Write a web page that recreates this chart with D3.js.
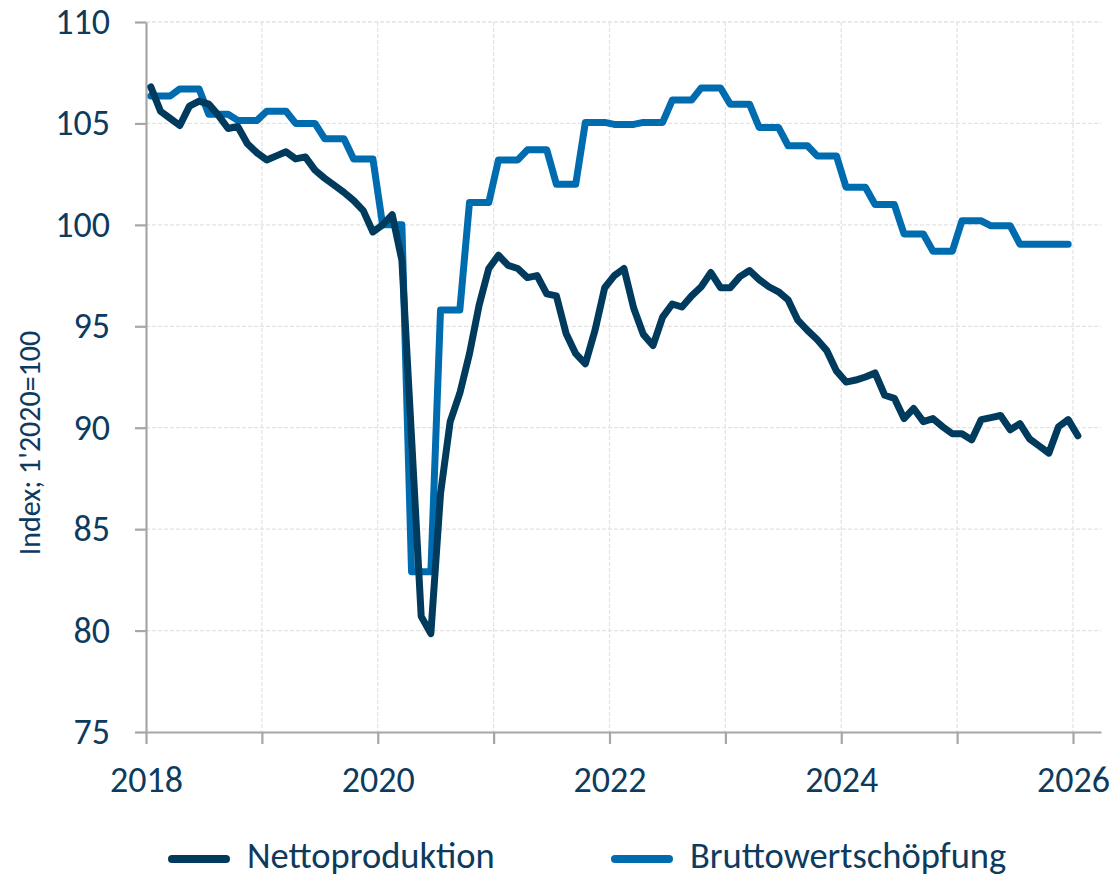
<!DOCTYPE html>
<html>
<head>
<meta charset="utf-8">
<script src="https://cdn.jsdelivr.net/npm/d3@7"></script>
<style>
  body { margin: 0; background: #fff; }
  text { font-family: Carlito, Calibri, Lato, "Open Sans", sans-serif; fill: #0d3b5e; }
</style>
</head>
<body>
<div id="main"></div>
<script>
// monthly index, Jan 2018 .. Jan 2026
var nettoproduktion = [
    106.8, 105.6, 105.25, 104.9, 105.85, 106.1, 105.95, 105.4, 104.75, 104.85, 104.0, 103.55,
    103.2, 103.4, 103.6, 103.25, 103.35, 102.7, 102.3, 101.95, 101.6, 101.2, 100.7, 99.65,
    100.0, 100.5, 98.25, 89.5, 80.7, 79.85, 86.75, 90.3, 91.7, 93.65, 96.05, 97.85,
    98.5, 98.0, 97.85, 97.4, 97.5, 96.6, 96.5, 94.65, 93.65, 93.15, 94.8, 96.9,
    97.5, 97.85, 95.9, 94.6, 94.05, 95.45, 96.1, 95.95, 96.5, 96.95, 97.65, 96.9,
    96.9, 97.45, 97.75, 97.3, 96.95, 96.7, 96.3, 95.3, 94.8, 94.35, 93.8, 92.8,
    92.25, 92.35, 92.5, 92.7, 91.6, 91.45, 90.45, 90.95, 90.3, 90.45, 90.05, 89.7,
    89.7, 89.4, 90.4, 90.5, 90.6, 89.9, 90.2, 89.45, 89.1, 88.75, 90.05, 90.4,
    89.6
];
// quarterly index, Q1 2018 .. Q4 2025
var bruttowertschoepfung = [
    106.35, 106.7, 105.45, 105.15, 105.6, 105.0, 104.25, 103.25,
    100.0, 82.9, 95.8, 101.1, 103.2, 103.7, 102.0, 105.05,
    104.95, 105.05, 106.15, 106.75, 105.95, 104.8, 103.9, 103.4,
    101.85, 101.0, 99.55, 98.7, 100.2, 99.95, 99.05, 99.05
];
var startYear = 2018;
var yearTicks = [2018, 2019, 2020, 2021, 2022, 2023, 2024, 2025, 2026];
var yTicks = [75, 80, 85, 90, 95, 100, 105, 110];
var seriesNames = ["Nettoproduktion", "Bruttowertschöpfung"];
var seriesColors = ["#003a5c", "#006cb0"];

var ctx = {
    w: 1119,
    h: 878,
    left: 146,
    right: 1101,
    top: 22,
    bottom: 732
};

// month index -> decimal year, plotted mid-month
var monthToYear = function(m) { return startYear + (m + 0.5) / 12; };

var createViz = function() {
    var svg = d3.select("#main").append("svg")
        .attr("width", ctx.w)
        .attr("height", ctx.h);

    ctx.xScale = d3.scaleLinear()
        .domain([2018, 2026 + (ctx.right - 1073) / 115.9])
        .range([ctx.left, ctx.right]);
    ctx.yScale = d3.scaleLinear().domain([75, 110]).range([ctx.bottom, ctx.top]);

    var grid = svg.append("g");
    // horizontal grid
    grid.selectAll("line.h").data(yTicks.slice(1)).enter().append("line")
        .attr("x1", ctx.left).attr("x2", ctx.right)
        .attr("y1", d => ctx.yScale(d)).attr("y2", d => ctx.yScale(d))
        .attr("stroke", "#e3e3e3").attr("stroke-width", 1.3)
        .attr("stroke-dasharray", "4,2");
    // vertical grid
    grid.selectAll("line.v").data(yearTicks.slice(1)).enter().append("line")
        .attr("x1", d => ctx.xScale(d)).attr("x2", d => ctx.xScale(d))
        .attr("y1", ctx.top).attr("y2", ctx.bottom)
        .attr("stroke", "#e3e3e3").attr("stroke-width", 1.3)
        .attr("stroke-dasharray", "4,2");

    // y axis
    var yAxis = svg.append("g")
        .attr("transform", `translate(${ctx.left},0)`)
        .call(d3.axisLeft(ctx.yScale).tickValues(yTicks).tickSize(11).tickPadding(25).tickSizeOuter(0));
    // x axis
    var xAxis = svg.append("g")
        .attr("transform", `translate(0,${ctx.bottom})`)
        .call(d3.axisBottom(ctx.xScale).tickValues(yearTicks).tickSize(12).tickPadding(22).tickSizeOuter(0)
            .tickFormat(d => d % 2 === 0 ? d : ""));
    [yAxis, xAxis].forEach(function(a) {
        a.select(".domain").attr("stroke", "#a6a6a6").attr("stroke-width", 2.2);
        a.selectAll(".tick line").attr("stroke", "#a6a6a6").attr("stroke-width", 2.2);
        a.selectAll("text").style("font-size", "36px").attr("fill", "#0d3b5e");
    });

    // y axis label
    svg.append("text")
        .attr("transform", "translate(40,443) rotate(-90)")
        .attr("text-anchor", "middle")
        .style("font-size", "30px")
        .text("Index; 1'2020=100");

    var line = d3.line()
        .x(d => ctx.xScale(monthToYear(d.m)))
        .y(d => ctx.yScale(d.v));

    var bruttoMonthly = [];
    bruttowertschoepfung.forEach(function(v, q) {
        for (var k = 0; k < 3; k++) bruttoMonthly.push({ m: q * 3 + k, v: v });
    });
    var nettoMonthly = nettoproduktion.map((v, m) => ({ m: m, v: v }));

    svg.append("path").datum(bruttoMonthly)
        .attr("d", line)
        .attr("fill", "none").attr("stroke", seriesColors[1])
        .attr("stroke-width", 7).attr("stroke-linejoin", "round").attr("stroke-linecap", "round");
    svg.append("path").datum(nettoMonthly)
        .attr("d", line)
        .attr("fill", "none").attr("stroke", seriesColors[0])
        .attr("stroke-width", 7).attr("stroke-linejoin", "round").attr("stroke-linecap", "round");

    // legend
    var legendX = [172, 615];
    var legend = svg.append("g");
    seriesNames.forEach(function(name, i) {
        legend.append("line")
            .attr("x1", legendX[i]).attr("x2", legendX[i] + 54)
            .attr("y1", 859).attr("y2", 859)
            .attr("stroke", seriesColors[i]).attr("stroke-width", 8)
            .attr("stroke-linecap", "round");
        legend.append("text")
            .attr("x", legendX[i] + 75).attr("y", 868)
            .style("font-size", "36.5px")
            .text(name);
    });
};

createViz();
</script>
</body>
</html>
